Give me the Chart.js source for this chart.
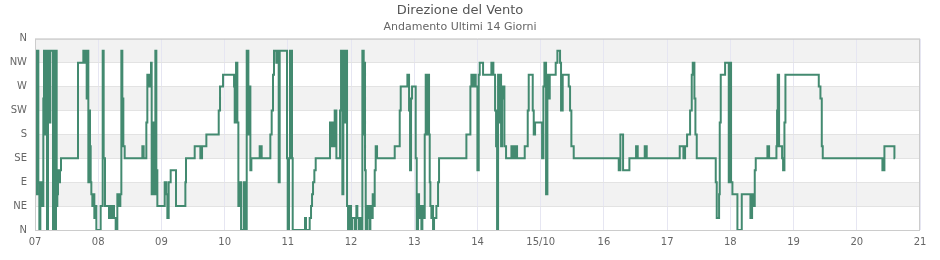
<!DOCTYPE html>
<html>
<head>
<meta charset="utf-8">
<script src="https://cdn.jsdelivr.net/npm/chart.js@4/dist/chart.umd.min.js"></script>
<style>
	html, body { margin: 0; padding: 0; background: #fff; }
	#wrap { width: 940px; height: 260px; }
</style>
</head>
<body>
<div id="wrap"><canvas id="windchart"></canvas></div>
<script>
// ore trascorse dal 07 alle 00:00
var hours = [
	0, 0.25, 0.63, 0.88, 1.27, 1.65, 2.03, 2.4, 2.78, 3.16, 3.42, 3.92, 4.18, 4.56, 4.94, 5.57, 5.82, 6.83, 7.21, 7.59,
	7.97, 8.23, 8.48, 8.73, 9.11, 9.49, 9.87, 16.33, 18.35, 18.86, 19.24, 19.62, 19.87, 20.25, 20.5, 20.88, 21.14, 21.39, 21.77, 22.15,
	22.53, 22.91, 23.29, 24.93, 25.7, 26.07, 26.58, 28.1, 28.6, 29.11, 29.62, 29.99, 30.63, 31.26, 31.77, 32.4, 32.78, 33.16, 33.54, 34.05,
	40.76, 41.26, 42.27, 42.65, 43.16, 43.54, 44.05, 44.3, 44.81, 45.06, 45.69, 46.07, 46.45, 49.24, 49.87, 50.25, 50.75, 51.51, 53.54, 57.09,
	57.34, 60.63, 62.78, 63.42, 65.06, 69.75, 70.25, 71.39, 75.57, 75.82, 76.33, 76.83, 77.21, 77.72, 78.23, 79.24, 79.75, 80.38, 81.01, 81.39,
	81.77, 82.15, 85.3, 86.06, 89.35, 89.86, 90.37, 90.75, 91.63, 92.01, 92.52, 92.9, 95.68, 95.94, 96.44, 96.82, 97.58, 97.84, 102.52, 102.9,
	104.29, 104.8, 105.18, 105.56, 106.06, 106.57, 112.01, 112.64, 113.02, 113.4, 113.78, 114.42, 115.81, 116.19, 116.69, 117.07, 117.71, 118.09, 118.47, 118.85,
	119.23, 119.61, 119.99, 120.37, 121.38, 122.01, 122.39, 123.02, 123.53, 123.91, 124.29, 124.8, 125.05, 125.3, 125.56, 126.06, 126.57, 126.95, 127.33, 127.83,
	128.21, 128.59, 128.97, 129.35, 129.86, 136.57, 138.47, 138.85, 141.38, 142.01, 142.39, 142.77, 143.15, 144.54, 144.92, 145.43, 145.81, 146.31, 146.69, 147.07,
	147.58, 147.96, 148.34, 148.85, 149.23, 149.6, 149.86, 150.11, 150.49, 150.87, 151.12, 151.5, 152.39, 153.02, 153.4, 163.78, 165.3, 165.68, 166.32, 166.7,
	167.33, 167.96, 168.47, 168.84, 170.11, 173.27, 174.03, 174.67, 175.05, 175.43, 175.81, 176.19, 176.57, 176.95, 177.33, 177.71, 178.21, 178.84, 180.87, 181.63,
	182.39, 183.02, 185.93, 187.07, 187.45, 188.97, 189.35, 189.86, 192.52, 193.02, 193.4, 194.03, 194.54, 195.05, 195.43, 197.69, 198.33, 199.34, 199.72, 200.35,
	202.63, 203.14, 203.64, 204.53, 221.62, 222.25, 223.27, 225.67, 228.2, 228.83, 231.49, 232.25, 244.78, 246.18, 246.81, 247.57, 248.71, 249.34, 249.72, 250.35,
	250.73, 251.24, 258.45, 258.83, 259.72, 259.97, 260.35, 262, 263.39, 263.89, 264.27, 264.78, 266.68, 268.33, 271.62, 272.25, 272.63, 273.26, 273.64, 278.07,
	278.71, 281.49, 281.74, 281.99, 282.5, 283.64, 284.02, 284.53, 284.91, 297.57, 298.2, 298.71, 299.08, 321.73, 322.49, 326.29, 326.54
];
// direzione in gradi
var dirs = [
	135, 337.5, 67.5, 337.5, 90, 0, 67.5, 90, 45, 247.5, 337.5, 180, 337.5, 0, 337.5, 202.5, 337.5, 0, 337.5, 0,
	337.5, 45, 67.5, 112.5, 90, 112.5, 135, 315, 337.5, 315, 337.5, 247.5, 337.5, 90, 225, 157.5, 90, 67.5, 45, 67.5,
	22.5, 45, 0, 45, 337.5, 135, 45, 22.5, 45, 22.5, 45, 22.5, 0, 67.5, 45, 67.5, 337.5, 247.5, 157.5, 135,
	157.5, 135, 202.5, 292.5, 270, 292.5, 315, 67.5, 202.5, 67.5, 337.5, 112.5, 45, 90, 67.5, 22.5, 90, 112.5, 45, 90,
	135, 157.5, 135, 157.5, 180, 225, 270, 292.5, 270, 202.5, 315, 202.5, 45, 90, 0, 90, 0, 337.5, 180, 270,
	112.5, 135, 157.5, 135, 180, 225, 292.5, 337.5, 315, 337.5, 90, 337.5, 135, 0, 135, 337.5, 135, 0, 22.5, 0,
	22.5, 45, 67.5, 90, 112.5, 135, 202.5, 157.5, 202.5, 157.5, 225, 135, 225, 337.5, 67.5, 337.5, 202.5, 337.5, 45, 0,
	22.5, 45, 0, 22.5, 0, 45, 22.5, 0, 22.5, 0, 337.5, 180, 315, 112.5, 0, 45, 22.5, 0, 45, 22.5,
	67.5, 45, 112.5, 157.5, 135, 157.5, 225, 270, 292.5, 225, 112.5, 247.5, 270, 135, 0, 67.5, 22.5, 45, 0, 45,
	22.5, 180, 292.5, 180, 292.5, 180, 90, 45, 22.5, 45, 0, 22.5, 45, 90, 135, 180, 270, 292.5, 270, 292.5,
	270, 112.5, 292.5, 315, 292.5, 315, 292.5, 225, 157.5, 0, 292.5, 202.5, 292.5, 157.5, 247.5, 270, 157.5, 135, 157.5, 135,
	157.5, 135, 157.5, 225, 292.5, 225, 180, 202.5, 135, 270, 315, 67.5, 292.5, 247.5, 292.5, 315, 337.5, 315, 225, 292.5,
	270, 225, 157.5, 135, 112.5, 180, 112.5, 135, 157.5, 135, 157.5, 135, 157.5, 135, 157.5, 180, 225, 292.5, 315, 247.5,
	180, 135, 90, 22.5, 67.5, 202.5, 292.5, 315, 90, 315, 90, 67.5, 0, 67.5, 22.5, 67.5, 45, 112.5, 135, 157.5,
	135, 157.5, 225, 292.5, 157.5, 135, 112.5, 202.5, 292.5, 270, 247.5, 157.5, 135, 112.5, 157.5, 135, 135
];
var dayLabels = ['07', '08', '09', '10', '11', '12', '13', '14', '15/10', '16', '17', '18', '19', '20', '21'];
var dirLabels = ['N', 'NE', 'E', 'SE', 'S', 'SW', 'W', 'NW', 'N'];

var points = hours.map(function (h, i) { return { x: h, y: dirs[i] }; });

// bande alternate e bordo dell'area del grafico
var bandPlugin = {
	id: 'bands',
	beforeDraw: function (chart) {
		var ctx = chart.ctx, area = chart.chartArea, y = chart.scales.y;
		ctx.save();
		ctx.fillStyle = '#f2f2f2';
		for (var i = 1; i < dirLabels.length - 1; i += 2) {
			var top = y.getPixelForValue((i + 1) * 45);
			var bottom = y.getPixelForValue(i * 45);
			ctx.fillRect(area.left, top, area.right - area.left, bottom - top);
		}
		ctx.restore();
	},
	afterDraw: function (chart) {
		var ctx = chart.ctx, area = chart.chartArea;
		ctx.save();
		ctx.strokeStyle = '#cccccc';
		ctx.lineWidth = 1;
		ctx.strokeRect(area.left + 0.5, area.top + 0.5, area.right - area.left - 1, area.bottom - area.top);
		ctx.restore();
	}
};

Chart.defaults.font.family = '"DejaVu Sans", sans-serif';

var config = {
	type: 'line',
	data: {
		datasets: [{
			data: points,
			borderColor: '#438a70',
			borderWidth: 2,
			pointRadius: 0,
			stepped: 'before',
			fill: false
		}]
	},
	options: {
		responsive: true,
		maintainAspectRatio: false,
		animation: false,
		layout: {
			padding: { left: 0, right: 20, top: 0, bottom: 0 }
		},
		plugins: {
			legend: { display: false },
			tooltip: { enabled: false },
			title: {
				display: true,
				text: 'Direzione del Vento',
				color: '#555555',
				font: { size: 13, weight: 'normal' },
				padding: { top: 3, bottom: 1 }
			},
			subtitle: {
				display: true,
				text: 'Andamento Ultimi 14 Giorni',
				color: '#666666',
				font: { size: 11 },
				padding: { top: 1, bottom: 5 }
			}
		},
		scales: {
			x: {
				type: 'linear',
				min: 0,
				max: 336,
				afterFit: function (scale) { scale.height = 30; },
				afterBuildTicks: function (scale) {
					scale.ticks = dayLabels.map(function (l, i) { return { value: i * 24 }; });
				},
				grid: { color: '#e6e6f2', drawTicks: false },
				border: { display: false },
				ticks: {
					autoSkip: false,
					maxRotation: 0,
					padding: 6,
					color: '#666666',
					font: { size: 10 },
					callback: function (v) { return dayLabels[Math.round(v / 24)]; }
				}
			},
			y: {
				min: 0,
				max: 360,
				afterFit: function (scale) { scale.width = 35; },
				afterBuildTicks: function (scale) {
					scale.ticks = dirLabels.map(function (l, i) { return { value: i * 45 }; });
				},
				grid: { color: '#e3e3e3', drawTicks: false },
				border: { display: false },
				ticks: {
					padding: 8,
					color: '#666666',
					font: { size: 10 },
					callback: function (v) { return dirLabels[Math.round(v / 45)]; }
				}
			}
		}
	},
	plugins: [bandPlugin]
};

var ctx = document.getElementById('windchart').getContext('2d');
var windChart = new Chart(ctx, config);
</script>
</body>
</html>
